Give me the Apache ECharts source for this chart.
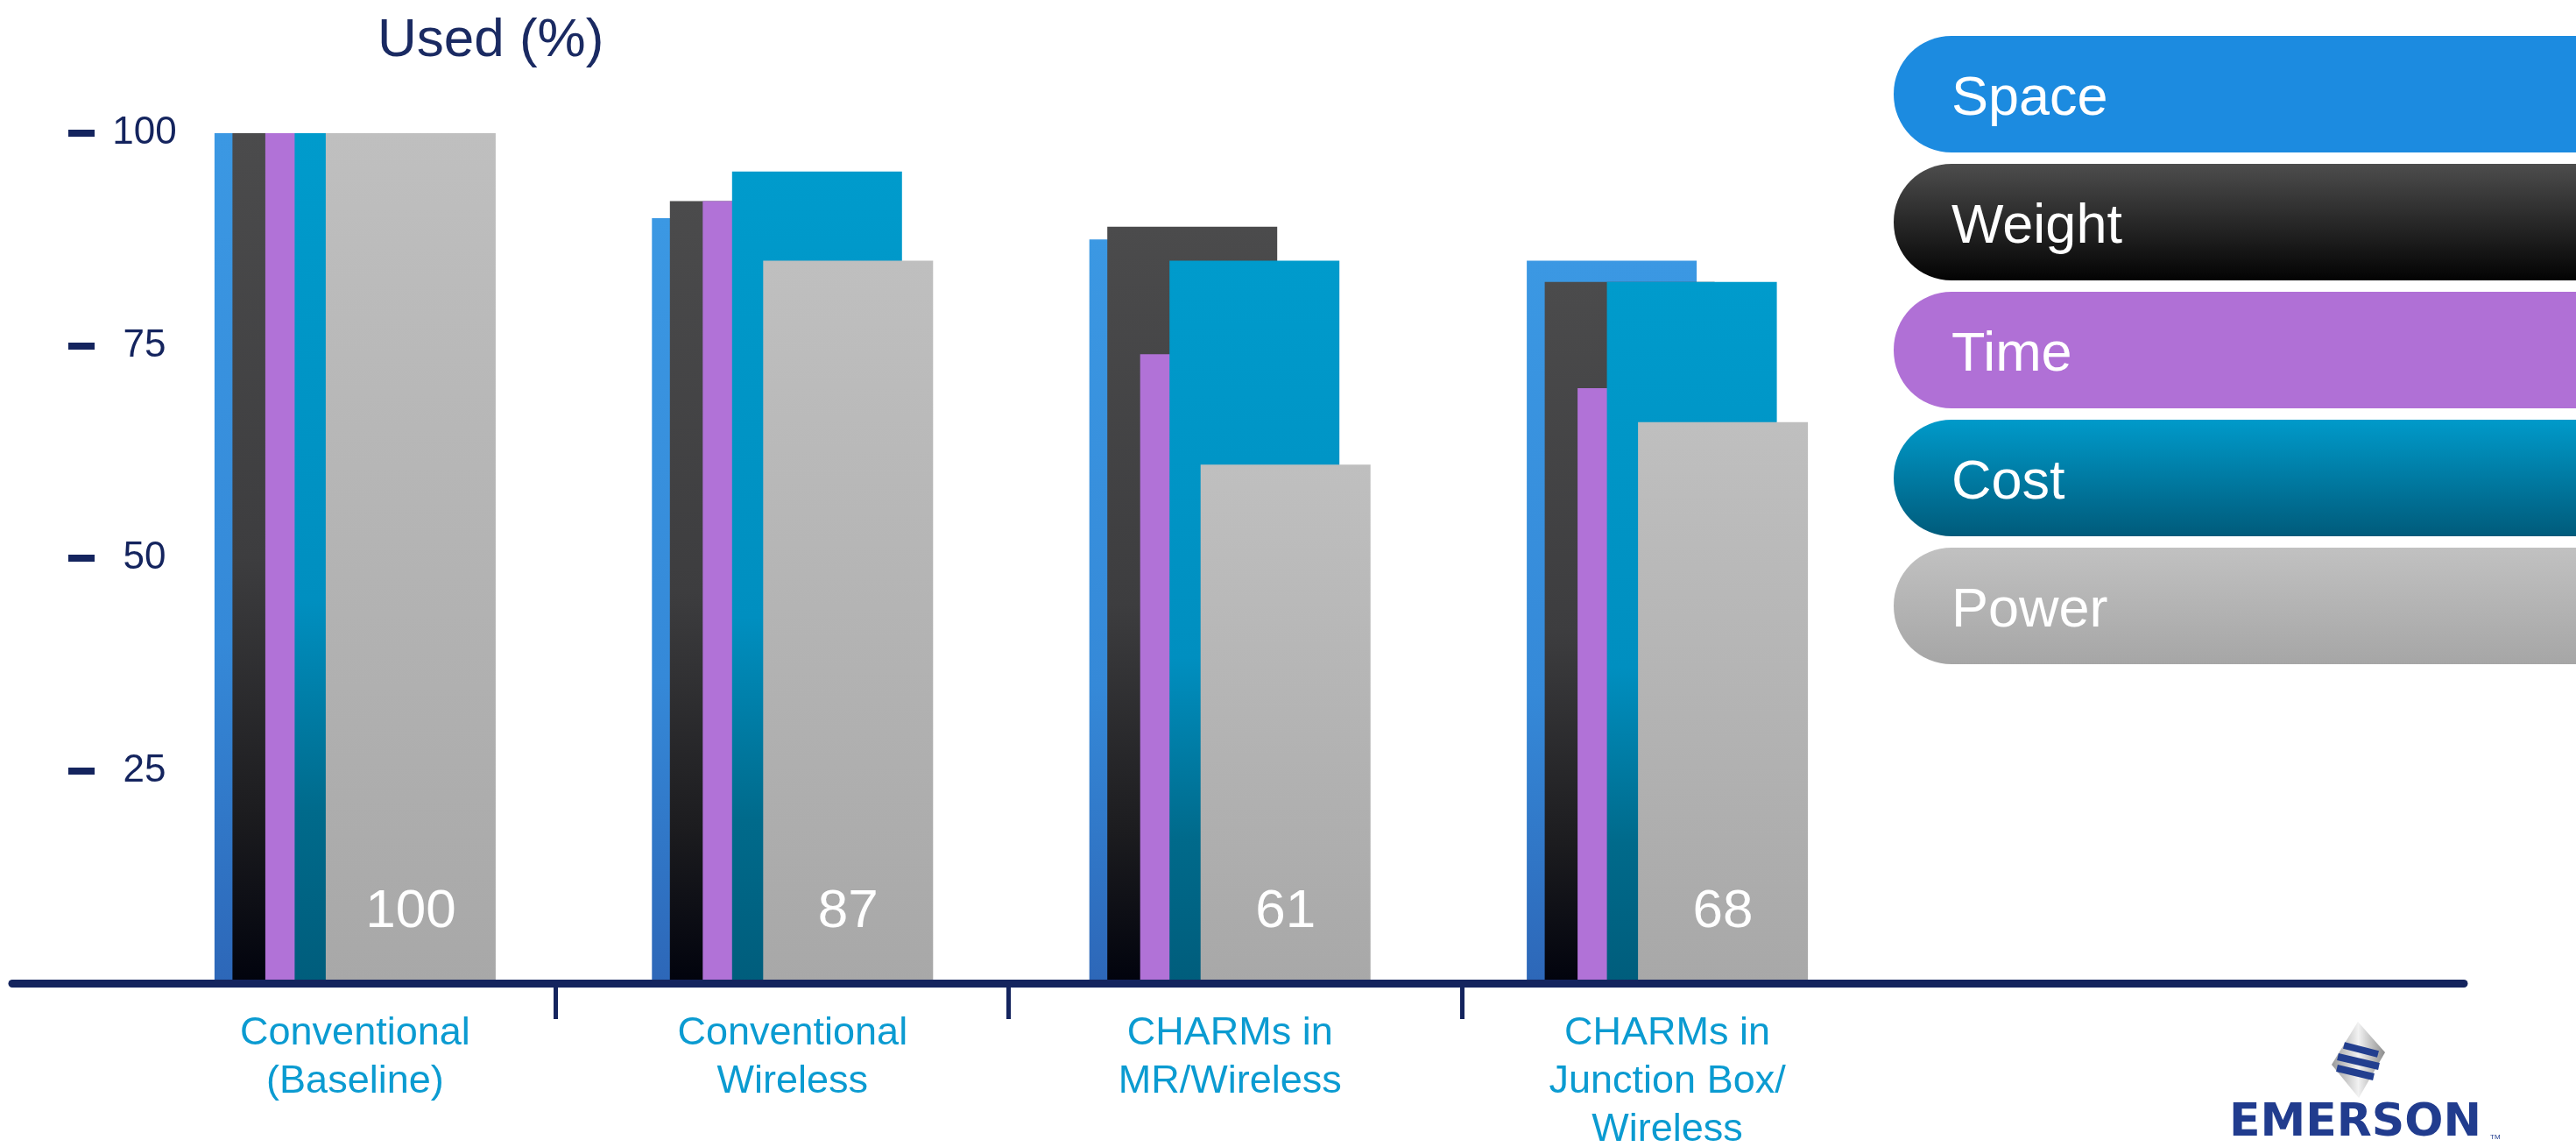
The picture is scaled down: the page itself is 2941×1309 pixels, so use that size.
<!DOCTYPE html>
<html>
<head>
<meta charset="utf-8">
<title>Used (%)</title>
<script src="https://cdn.jsdelivr.net/npm/echarts@6/dist/echarts.min.js"></script>
<style>
  html, body { margin: 0; padding: 0; background: #fff; }
  #chart { width: 2941px; height: 1309px; }
</style>
</head>
<body>
<div id="chart"></div>
<script>
const categories = [
  'Conventional\n(Baseline)',
  'Conventional\nWireless',
  'CHARMs in\nMR/Wireless',
  'CHARMs in\nJunction Box/\nWireless'
]
const seriesNames = ['Space', 'Weight', 'Time', 'Cost', 'Power']
const spaceData = [100, 90, 87.5, 85]
const weightData = [100, 92, 89, 82.5]
const timeData = [100, 92, 74, 70]
const costData = [100, 95.5, 85, 82.5]
const powerData = [100, 85, 61, 66]
const powerLabels = [100, 87, 61, 68]
const yTicks = [25, 50, 75, 100]

const navy = '#14245e'
const font = 'Liberation Sans, Arial, sans-serif'

// layout: plot area and the left edge of each overlapping bar inside its group
const plot = { left: 155.7, right: 787.7, top: 152, bottom: 187 }
const barWidth = 194
const barOffsets = [0, 20.5, 58, 91.5, 127]
const groupWidth = barOffsets[barOffsets.length - 1] + barWidth

function vgrad(stops) {
  return new echarts.graphic.LinearGradient(0, 0, 0, 1,
    stops.map(function (s) { return { offset: s[0], color: s[1] } }))
}

// bar fills
const barColors = [
  vgrad([[0, '#3b98e3'], [0.6, '#3589d8'], [1, '#2d67b8']]),
  vgrad([[0, '#4b4b4c'], [0.5, '#3d3d3f'], [0.8, '#1c1c1f'], [1, '#01030d']]),
  '#b172d7',
  vgrad([[0, '#009bcc'], [0.55, '#008fc0'], [0.8, '#006a8b'], [1, '#005d7c']]),
  vgrad([[0, '#bfbfbf'], [1, '#a8a8a8']])
]
// legend pill fills
const pillColors = [
  '#1c8be0',
  vgrad([[0, '#4d4d4d'], [1, '#030303']]),
  '#b070d6',
  vgrad([[0, '#009aca'], [1, '#005b7b']]),
  vgrad([[0, '#c1c1c1'], [1, '#a6a6a6']])
]

const allData = [spaceData, weightData, timeData, costData, powerData]
const yMax = yTicks[yTicks.length - 1]

const chart = echarts.init(document.getElementById('chart'))

// grid 0 carries the visible axes, grids 1..5 one bar series each
let grids = [Object.assign({ outerBoundsMode: 'none' }, plot)]
let xAxes = [{
  type: 'category',
  gridIndex: 0,
  data: categories,
  axisLine: { show: false },
  axisTick: { show: false },
  axisLabel: {
    margin: 30,
    fontFamily: font,
    fontSize: 45,
    lineHeight: 55,
    color: '#0b9bd1',
    interval: 0
  }
}]
let yAxes = [{
  type: 'value',
  gridIndex: 0,
  min: 0,
  max: yMax,
  interval: yTicks[1] - yTicks[0],
  offset: 47.7,
  axisLine: { show: false },
  axisTick: {
    show: true,
    customValues: yTicks,
    length: 30,
    lineStyle: { color: navy, width: 8 }
  },
  axisLabel: {
    inside: true,
    customValues: yTicks,
    margin: 57,
    align: 'center',
    fontFamily: font,
    fontSize: 44,
    color: navy
  },
  splitLine: { show: false }
}]

let series = seriesNames.map(function (name, i) {
  const shift = barOffsets[i] + barWidth / 2 - groupWidth / 2
  grids.push({
    left: plot.left + shift,
    right: plot.right - shift,
    top: plot.top,
    bottom: plot.bottom,
    outerBoundsMode: 'none'
  })
  xAxes.push({ type: 'category', gridIndex: i + 1, data: categories, show: false })
  yAxes.push({ type: 'value', gridIndex: i + 1, min: 0, max: yMax, show: false })
  let s = {
    name: name,
    type: 'bar',
    xAxisIndex: i + 1,
    yAxisIndex: i + 1,
    data: allData[i],
    barWidth: barWidth,
    itemStyle: { color: barColors[i] },
    emphasis: { disabled: true }
  }
  if (name === 'Power') {
    s.label = {
      show: true,
      position: 'insideBottom',
      distance: 50,
      fontFamily: font,
      fontSize: 62,
      color: '#ffffff',
      formatter: function (p) { return String(powerLabels[p.dataIndex]) }
    }
  }
  return s
})

// long baseline
grids.push({ left: 14, right: 128, top: 152, bottom: 186.5, outerBoundsMode: 'none' })
xAxes.push({
  type: 'value',
  gridIndex: grids.length - 1,
  min: 0,
  max: 1,
  z: 5,
  axisLine: { show: true, lineStyle: { color: navy, width: 9 } },
  axisTick: { show: false },
  axisLabel: { show: false },
  splitLine: { show: false }
})
yAxes.push({ type: 'value', gridIndex: grids.length - 1, show: false })

// separators between categories
grids.push({ left: 634, right: 1272, top: 152, bottom: 184, outerBoundsMode: 'none' })
xAxes.push({
  type: 'value',
  gridIndex: grids.length - 1,
  min: 1,
  max: 3,
  interval: 1,
  axisLine: { show: false },
  axisTick: { show: true, length: 38, lineStyle: { color: navy, width: 5 } },
  axisLabel: { show: false },
  splitLine: { show: false }
})
yAxes.push({ type: 'value', gridIndex: grids.length - 1, show: false })

let option = {
  backgroundColor: '#ffffff',
  animation: false,
  textStyle: { fontFamily: font },
  title: {
    text: 'Used (%)',
    left: 431,
    top: 16,
    padding: 0,
    textStyle: { fontFamily: font, fontSize: 62, fontWeight: 'normal', color: '#1a2a62' }
  },
  legend: {
    orient: 'vertical',
    left: 2157,
    top: 41,
    itemGap: 13,
    itemWidth: 0,
    itemHeight: 0,
    padding: 0,
    formatter: '{t|{name}}',
    data: seriesNames.map(function (name, i) {
      return {
        name: name,
        textStyle: {
          backgroundColor: pillColors[i],
          borderRadius: [66, 0, 0, 66],
          width: 800,
          height: 120,
          padding: [13, 0, 0, 66],
          rich: {
            t: { color: '#ffffff', fontFamily: font, fontSize: 63, lineHeight: 120 }
          }
        }
      }
    })
  },
  grid: grids,
  xAxis: xAxes,
  yAxis: yAxes,
  series: series,
  graphic: [
    {
      type: 'group',
      left: 2545,
      top: 1166,
      children: [
        {
          type: 'polygon',
          shape: { points: [[147, 2], [178, 37], [148, 89], [117, 51]] },
          style: {
            fill: new echarts.graphic.LinearGradient(0, 0, 1, 0, [
              { offset: 0, color: '#9a9a9a' },
              { offset: 0.5, color: '#f2f2f2' },
              { offset: 1, color: '#8c8c8c' }
            ])
          }
        },
        { type: 'line', shape: { x1: 131, y1: 29, x2: 170, y2: 39 }, style: { stroke: '#233f8f', lineWidth: 8 } },
        { type: 'line', shape: { x1: 124, y1: 42, x2: 171, y2: 53 }, style: { stroke: '#233f8f', lineWidth: 8 } },
        { type: 'line', shape: { x1: 123, y1: 55, x2: 165, y2: 65 }, style: { stroke: '#233f8f', lineWidth: 8 } },
        {
          type: 'text',
          left: 0,
          top: 92,
          style: {
            text: 'EMERSON',
            fontFamily: 'DejaVu Sans, sans-serif',
            fontWeight: 'bold',
            fontSize: 52,
            fill: '#213c8e'
          }
        },
        {
          type: 'text',
          left: 298,
          top: 130,
          style: { text: 'TM', fontFamily: font, fontSize: 8, fill: '#213c8e' }
        }
      ]
    }
  ]
}

chart.setOption(option)
window.addEventListener('resize', function () {
  chart.resize()
})
</script>
</body>
</html>
